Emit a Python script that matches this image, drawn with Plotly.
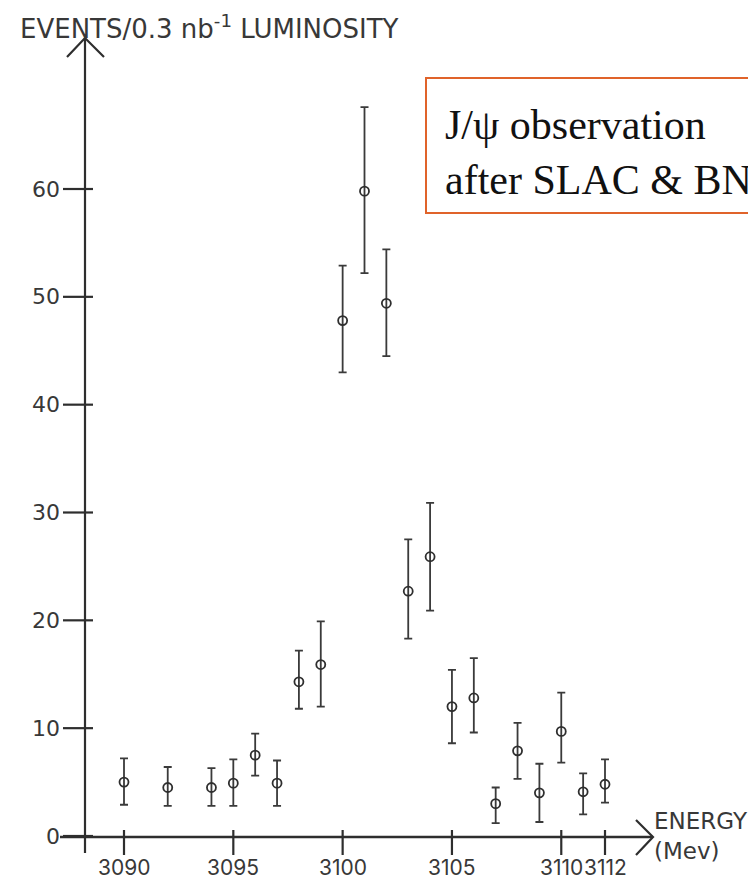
import plotly.graph_objects as go

# ---- data ----
energy = [3090, 3092, 3094, 3095, 3096, 3097, 3098, 3099, 3100, 3101, 3102,
          3103, 3104, 3105, 3106, 3107, 3108, 3109, 3110, 3111, 3112]
events = [5.0, 4.5, 4.5, 4.9, 7.5, 4.9, 14.3, 15.9, 47.8, 59.8, 49.4,
          22.7, 25.9, 12.0, 12.8, 3.0, 7.9, 4.0, 9.7, 4.1, 4.8]
err_up = [2.2, 1.9, 1.8, 2.2, 2.0, 2.1, 2.9, 4.0, 5.1, 7.8, 5.0,
          4.8, 5.0, 3.4, 3.7, 1.5, 2.6, 2.7, 3.6, 1.7, 2.3]
err_down = [2.1, 1.7, 1.7, 2.1, 1.9, 2.1, 2.5, 3.9, 4.8, 7.6, 4.9,
            4.4, 5.0, 3.4, 3.2, 1.8, 2.6, 2.7, 2.9, 2.1, 1.7]
x_ticks = [3090, 3095, 3100, 3105, 3110, 3112]
y_ticks = [0, 10, 20, 30, 40, 50, 60]
y_title = "EVENTS/0.3 nb<sup>-1</sup> LUMINOSITY"
x_title = "ENERGY<br>(Mev)"
note = "J/ψ observation<br>after SLAC & BNL"

# the page body has an 8px margin; size the figure so it fills the window
OFF = 8
W, H = 756 - OFF, 880 - OFF
INK = "#2e2e2e"
TXT = "#383838"

# axis scale (full-canvas plotting area)
PX_PER_MEV = 481 / 22.0
PX_PER_EVT = 647 / 60.0
x0 = 3090 - (124 - OFF) / PX_PER_MEV
x_range = [x0, x0 + W / PX_PER_MEV]
y_range = [-(880 - 836) / PX_PER_EVT, (836 - OFF) / PX_PER_EVT]


def px(x):
    return (x - OFF) / W


def py(y):
    return 1 - (y - OFF) / H


fig = go.Figure()
fig.add_trace(go.Scatter(
    x=energy, y=events, mode="markers",
    marker=dict(symbol="circle-open", size=9, color=INK, line=dict(width=1.8, color=INK)),
    error_y=dict(type="data", array=err_up, arrayminus=err_down, visible=True,
                 color="#3a3a3a", thickness=1.8, width=4),
    hoverinfo="skip", showlegend=False,
))

shapes = []
annotations = []
line = dict(color=INK, width=2.2)

# y axis line + arrow head
shapes.append(dict(type="line", xref="paper", yref="paper", x0=px(85), x1=px(85), y0=py(853), y1=py(38), line=line))
shapes.append(dict(type="path", xref="paper", yref="paper",
                   path="M %f,%f L %f,%f L %f,%f" % (px(67), py(57), px(85), py(38), px(104), py(57)),
                   line=line))
# x axis line + arrow head
shapes.append(dict(type="line", xref="paper", yref="paper", x0=px(60), x1=px(653), y0=py(837), y1=py(837),
                   line=dict(color=INK, width=2.6)))
shapes.append(dict(type="path", xref="paper", yref="paper",
                   path="M %f,%f L %f,%f L %f,%f" % (px(636), py(820), px(653), py(837), px(636), py(855)),
                   line=line))

# y ticks and labels
for v in y_ticks:
    shapes.append(dict(type="line", xref="paper", yref="y", x0=px(63), x1=px(93), y0=v, y1=v, line=line))
    annotations.append(dict(xref="paper", yref="y", x=px(62), y=v, text=str(v), showarrow=False,
                            xanchor="right", yanchor="middle",
                            font=dict(family="DejaVu Sans", size=22, color=TXT)))
# x ticks and labels
for v in x_ticks:
    shapes.append(dict(type="line", xref="x", yref="paper", x0=v, x1=v, y0=py(830), y1=py(855), line=line))
    annotations.append(dict(xref="x", yref="paper", x=v, y=py(867), text=str(v), showarrow=False,
                            xanchor="center", yanchor="middle",
                            font=dict(family="Inter", size=21, color=TXT)))

# axis titles
annotations.append(dict(xref="paper", yref="paper", x=px(18), y=py(27), text=y_title, showarrow=False,
                        xanchor="left", yanchor="middle",
                        font=dict(family="DejaVu Sans", size=26, color=TXT)))
annotations.append(dict(xref="paper", yref="paper", x=px(652), y=py(836), text=x_title, showarrow=False,
                        xanchor="left", yanchor="middle", align="left",
                        font=dict(family="DejaVu Sans", size=23, color=TXT)))

# note box
shapes.append(dict(type="rect", xref="paper", yref="paper", x0=px(426), x1=px(800), y0=py(213), y1=py(78),
                   line=dict(color="#E0632A", width=2), fillcolor="rgba(0,0,0,0)"))
annotations.append(dict(xref="paper", yref="paper", x=px(443), y=py(152), text=note, showarrow=False,
                        xanchor="left", yanchor="middle", align="left",
                        font=dict(family="Liberation Serif", size=42, color="#111111")))

fig.update_layout(
    width=W, height=H,
    margin=dict(l=0, r=0, t=0, b=0),
    paper_bgcolor="white", plot_bgcolor="white",
    xaxis=dict(range=x_range, visible=False, fixedrange=True),
    yaxis=dict(range=y_range, visible=False, fixedrange=True),
    shapes=shapes, annotations=annotations,
    hovermode=False,
)

fig.write_html("out.html")
